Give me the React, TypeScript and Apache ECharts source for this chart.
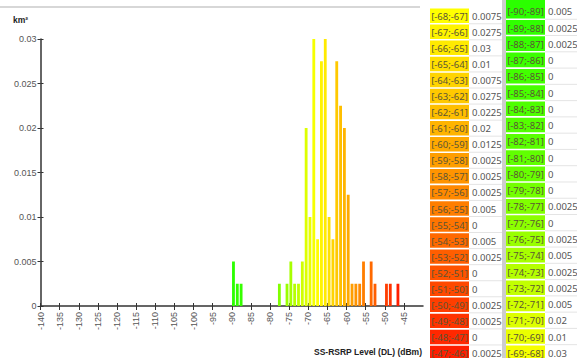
import React, { useEffect, useRef } from "react";
import * as echarts from "echarts";

// Bin starts (dBm); bin = [start; start+1]
const binStarts = [
  -90, -89, -88, -87, -86, -85, -84, -83, -82, -81, -80, -79, -78, -77, -76, -75, -74, -73, -72, -71, -70, -69,
  -68, -67, -66, -65, -64, -63, -62, -61, -60, -59, -58, -57, -56, -55, -54, -53, -52, -51, -50, -49, -48, -47,
];
// Area per bin (km²)
const areaKm2 = [
  0.005, 0.0025, 0.0025, 0, 0, 0, 0, 0, 0, 0, 0, 0, 0.0025, 0, 0.0025, 0.005, 0.0025, 0.0025, 0.005, 0.02, 0.01, 0.03,
  0.0075, 0.0275, 0.03, 0.01, 0.0075, 0.0275, 0.0225, 0.02, 0.0125, 0.0025, 0.0025, 0.0025, 0.005, 0, 0.005, 0.0025, 0, 0, 0.0025, 0.0025, 0, 0.0025,
];
const xTickValues = [
  -140, -135, -130, -125, -120, -115, -110, -105, -100, -95, -90, -85, -80, -75, -70, -65, -60, -55, -50, -45,
];
const yAxisTitle = "km²";
const xAxisTitle = "SS-RSRP Level (DL) (dBm)";
const tableSplitStart = -68; // left table column holds bins >= this

// colour ramp stops: [bin start, hue]
const hueStops = [
  [-90, 110],
  [-80, 96],
  [-76, 84],
  [-72, 71],
  [-69, 62],
  [-68, 60],
  [-47, 7],
];

function hslToHex(h: number, s: number, l: number) {
  s /= 100;
  l /= 100;
  const k = (n: number) => (n + h / 30) % 12;
  const a = s * Math.min(l, 1 - l);
  const f = (n: number) => l - a * Math.max(-1, Math.min(k(n) - 3, Math.min(9 - k(n), 1)));
  const hex = (x: number) => Math.round(x * 255).toString(16).padStart(2, "0");
  return "#" + hex(f(0)) + hex(f(8)) + hex(f(4));
}

function binColor(s: number) {
  let h = hueStops[0][1];
  for (let i = 0; i < hueStops.length - 1; i++) {
    const [a, ha] = hueStops[i];
    const [b, hb] = hueStops[i + 1];
    if (s >= a && s <= b) {
      h = ha + ((s - a) / (b - a)) * (hb - ha);
      break;
    }
  }
  if (s > hueStops[hueStops.length - 1][0]) h = hueStops[hueStops.length - 1][1];
  return hslToHex(Math.max(0, h), 100, 50);
}

function buildTable() {
  const els: any[] = [];
  const rows = binStarts.map((s, i) => ({ s, v: areaKm2[i] }));
  const left = rows.filter((r) => r.s >= tableSplitStart);
  const right = rows.filter((r) => r.s < tableSplitStart);
  const font = "'Noto Sans', sans-serif";
  const cols = [
    { data: left, x0: 430, x1: 469, x2: 502, top: 8.5, pitch: 16.06 },
    { data: right, x0: 506, x1: 545, x2: 577, top: 3.8, pitch: 16.27 },
  ];
  els.push({ type: "rect", shape: { x: 502, y: 0, width: 4, height: 358 }, style: { fill: "#cdcdcd" }, silent: true });
  cols.forEach((c) => {
    c.data.forEach((r, i) => {
      let y = c.top + c.pitch * i;
      let h = c.pitch - 1.6;
      if (i === 0 && c.top < 5) {
        h += y;
        y = 0;
      }
      const cy = c.top + c.pitch * i + (c.pitch - 1.6) / 2 + 0.6;
      els.push({
        type: "rect",
        shape: { x: c.x0, y, width: c.x1 - c.x0, height: h },
        style: { fill: binColor(r.s) },
        silent: true,
      });
      els.push({
        type: "line",
        shape: { x1: c.x1, y1: y + h + 0.8, x2: c.x2, y2: y + h + 0.8 },
        style: { stroke: "#e4e4e4", lineWidth: 1 },
        silent: true,
      });
      els.push({
        type: "text",
        x: (c.x0 + c.x1) / 2,
        y: cy,
        style: {
          text: `[${r.s};${r.s + 1}]`,
          fill: "#5b5535",
          font: `9.5px ${font}`,
          textAlign: "center",
          textVerticalAlign: "middle",
        },
        silent: true,
      });
      els.push({
        type: "text",
        x: c.x1 + 3,
        y: cy,
        style: {
          text: String(r.v),
          fill: "#555555",
          font: `9.5px ${font}`,
          textAlign: "left",
          textVerticalAlign: "middle",
        },
        silent: true,
      });
    });
  });
  return els;
}

export default function App() {
  const ref = useRef<HTMLDivElement>(null);
  useEffect(() => {
    if (!ref.current) return;
    const chart = echarts.init(ref.current, null, { renderer: "svg" });
    const axisColor = "#333333";
    const labelFont = "'Liberation Sans', Arial, sans-serif";
    const option: any = {
      animation: false,
      backgroundColor: "#ffffff",
      grid: { left: 40.5, right: 154, top: 39, bottom: 52, containLabel: false },
      xAxis: [
        {
          type: "value",
          min: -140,
          max: -40,
          interval: 5,
          position: "bottom",
          axisLine: { onZero: false, lineStyle: { color: axisColor, width: 1.5 } },
          axisTick: { customValues: xTickValues, length: 4, lineStyle: { color: axisColor, width: 1 } },
          axisLabel: {
            customValues: xTickValues,
            rotate: 90,
            fontSize: 9,
            fontFamily: labelFont,
            color: "#555555",
            margin: 6,
          },
          splitLine: { show: false },
        },
        {
          type: "value",
          min: -140,
          max: -40,
          interval: 5,
          position: "bottom",
          axisLine: { show: false, onZero: false },
          axisTick: { customValues: xTickValues, inside: true, length: 3, lineStyle: { color: axisColor, width: 1 } },
          axisLabel: { show: false },
          splitLine: { show: false },
        },
      ],
      yAxis: [
        {
          type: "value",
          min: 0,
          max: 0.03,
          interval: 0.005,
          axisLine: { show: true, onZero: false, lineStyle: { color: axisColor, width: 1.5 } },
          axisTick: { show: true, length: 3, lineStyle: { color: axisColor, width: 1 } },
          axisLabel: {
            fontSize: 9,
            fontFamily: labelFont,
            color: "#555555",
            margin: 4,
            formatter: (v: number) => String(+v.toFixed(4)),
          },
          splitLine: { show: false },
        },
        {
          type: "value",
          min: 0,
          max: 0.03,
          interval: 0.005,
          position: "left",
          axisLine: { show: false, onZero: false },
          axisTick: { show: true, inside: true, length: 3, lineStyle: { color: axisColor, width: 1 } },
          axisLabel: { show: false },
          splitLine: { show: false },
        },
      ],
      series: [
        {
          type: "custom",
          xAxisIndex: 0,
          yAxisIndex: 0,
          data: binStarts.map((s, i) => [s, areaKm2[i]]),
          encode: { x: 0, y: 1 },
          clip: false,
          renderItem: (params: any, api: any) => {
            const s = api.value(0);
            const v = api.value(1);
            if (!v) return null;
            const p0 = api.coord([s, v]);
            const p1 = api.coord([s + 1, 0]);
            return {
              type: "rect",
              shape: { x: p0[0] + 0.3, y: p0[1], width: p1[0] - p0[0] - 1, height: p1[1] - p0[1] },
              style: { fill: binColor(s), stroke: null },
            };
          },
        },
      ],
      graphic: [
        {
          type: "line",
          shape: { x1: 0, y1: 7, x2: 420, y2: 7 },
          style: { stroke: "#cacaca", lineWidth: 1.5 },
          silent: true,
        },
        {
          type: "text",
          x: 13,
          y: 20,
          style: {
            text: yAxisTitle,
            fill: "#222222",
            font: `bold 8.5px ${labelFont}`,
            textAlign: "left",
            textVerticalAlign: "middle",
          },
          silent: true,
        },
        {
          type: "text",
          x: 422,
          y: 352,
          style: {
            text: xAxisTitle,
            fill: "#222222",
            font: `bold 8.5px ${labelFont}`,
            textAlign: "right",
            textVerticalAlign: "middle",
          },
          silent: true,
        },
        ...buildTable(),
      ],
    };
    chart.setOption(option);
    return () => chart.dispose();
  }, []);
  return (
    <div
      ref={ref}
      style={{ position: "absolute", left: 0, top: 0, width: 577, height: 358, background: "#fff" }}
    />
  );
}
